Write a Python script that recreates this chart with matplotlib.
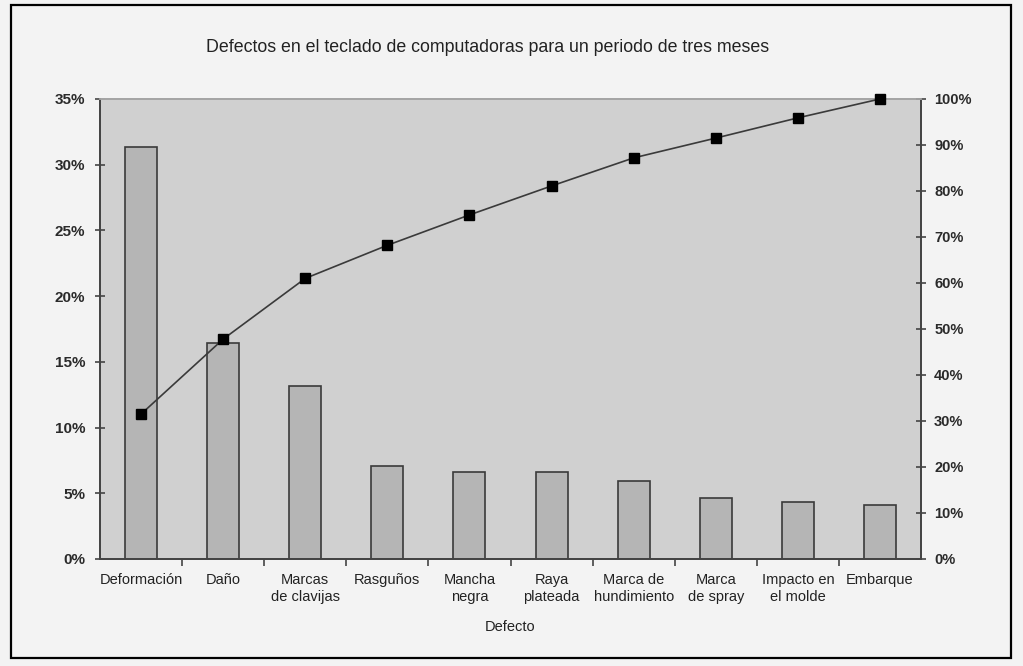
import matplotlib
matplotlib.use("Agg")
import matplotlib.pyplot as plt
from matplotlib.patches import Rectangle
from matplotlib.ticker import FuncFormatter, MultipleLocator, FixedLocator
import numpy as np

plt.rcParams['font.family'] = ['Liberation Sans', 'DejaVu Sans']

categorias = ["Deformación", "Daño", "Marcas\nde clavijas", "Rasguños", "Mancha\nnegra",
              "Raya\nplateada", "Marca de\nhundimiento", "Marca\nde spray", "Impacto en\nel molde",
              "Embarque"]
porcentaje = [31.35, 16.43, 13.16, 7.08, 6.60, 6.60, 5.93, 4.66, 4.36, 4.10]
acumulado = [31.5, 47.8, 61.0, 68.2, 74.8, 81.1, 87.2, 91.5, 95.9, 100.0]

W, H = 1023, 666
fig = plt.figure(figsize=(W / 100, H / 100), dpi=100)
fig.patch.set_facecolor("#f3f3f3")
fig.patches.append(Rectangle((11 / W, 1 - 658 / H), 1000 / W, 653 / H, fill=False,
                             ec="black", lw=1.6, transform=fig.transFigure, figure=fig))

ax = fig.add_axes([100 / W, 1 - 559 / H, 821 / W, 460 / H])
ax.set_facecolor("#d0d0d0")
x = np.arange(len(categorias))
ax.bar(x, porcentaje, width=0.39, color="#b5b5b5", edgecolor="#3a3a3a", linewidth=1.2, zorder=2)
ax.set_xlim(-0.5, len(categorias) - 0.5)
ax.set_ylim(0, 35)
ax.yaxis.set_major_locator(MultipleLocator(5))
ax.yaxis.set_major_formatter(FuncFormatter(lambda v, p: f"{v:.0f}%"))
ax.set_xticks(x)
ax.set_xticklabels(categorias, fontsize=10.5, linespacing=1.25)
ax.xaxis.set_minor_locator(FixedLocator(np.arange(0.5, len(categorias) - 0.5, 1)))
ax.tick_params(axis="x", which="major", length=0, pad=10, colors="#222222")
ax.tick_params(axis="x", which="minor", length=5, width=1.2, direction="out", color="#444444")
ax.tick_params(axis="y", which="major", length=7, width=1.2, direction="inout", color="#444444",
               labelsize=11, pad=7)
for lab in ax.get_yticklabels():
    lab.set_fontweight("bold")
    lab.set_color("#2a2a2a")
for s in ["left", "bottom", "right"]:
    ax.spines[s].set_color("#444444")
    ax.spines[s].set_linewidth(1.3)
ax.spines["top"].set_color("#a5a5a5")
ax.spines["top"].set_linewidth(1.3)

ax2 = ax.twinx()
ax2.plot(x, acumulado, color="#3a3a3a", lw=1.2, marker="s", markersize=6.5,
         markerfacecolor="black", markeredgecolor="black", zorder=3, clip_on=False)
ax2.set_ylim(0, 100)
ax2.yaxis.set_major_locator(MultipleLocator(10))
ax2.yaxis.set_major_formatter(FuncFormatter(lambda v, p: f"{v:.0f}%"))
ax2.tick_params(axis="y", which="major", length=7, width=1.2, direction="inout", color="#444444",
                labelsize=10.5, pad=6)
for lab in ax2.get_yticklabels():
    lab.set_fontweight("bold")
    lab.set_color("#2a2a2a")
for s in ["left", "bottom", "right"]:
    ax2.spines[s].set_color("#444444")
    ax2.spines[s].set_linewidth(1.3)
ax2.spines["top"].set_color("#a5a5a5")
ax2.spines["top"].set_linewidth(1.3)

fig.text(488 / W, 1 - 47 / H, "Defectos en el teclado de computadoras para un periodo de tres meses",
         ha="center", va="center", fontsize=12.8, color="#222222")
fig.text(510 / W, 1 - 627 / H, "Defecto", ha="center", va="center", fontsize=10.5, color="#222222")

fig.savefig("out.png", dpi=100, facecolor=fig.get_facecolor())
